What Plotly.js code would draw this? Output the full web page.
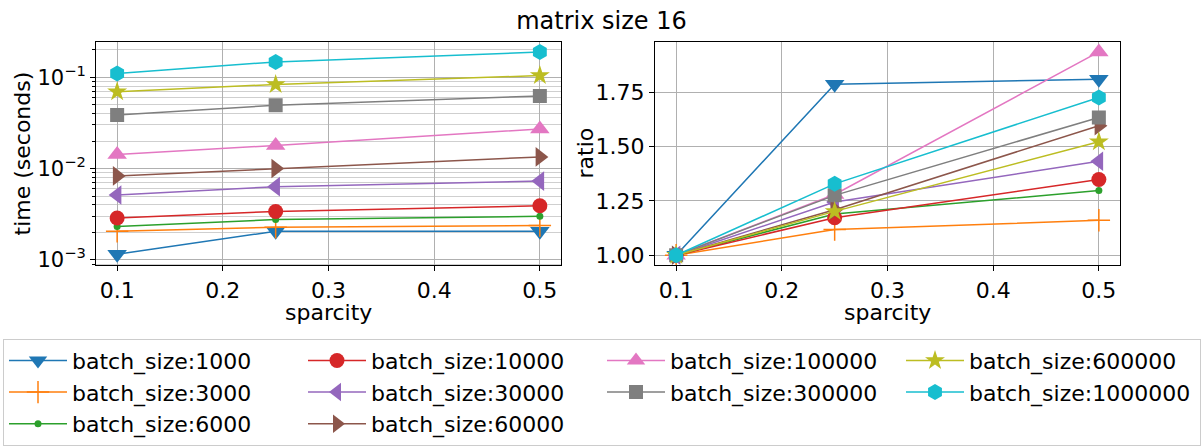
<!DOCTYPE html>
<html>
<head>
<meta charset="utf-8">
<script src="https://cdn.plot.ly/plotly-3.0.1.min.js"></script>
<style>html,body{margin:0;padding:0;background:#fff;}#chart{width:1203px;height:446px;}</style>
</head>
<body>
<div id="chart"></div>
<script>
// ---- data ----
const sparsity = [0.1, 0.25, 0.5];
const batchLabels = ["batch_size:1000","batch_size:3000","batch_size:6000","batch_size:10000","batch_size:30000","batch_size:60000","batch_size:100000","batch_size:300000","batch_size:600000","batch_size:1000000"];
// time (seconds)
const time_1000    = [0.00115, 0.00206, 0.00206];
const time_3000    = [0.00206, 0.00228, 0.00238];
const time_6000    = [0.00232, 0.00276, 0.00300];
const time_10000   = [0.00287, 0.00339, 0.00391];
const time_30000   = [0.00514, 0.00633, 0.00729];
const time_60000   = [0.0083, 0.0100, 0.0134];
const time_100000  = [0.0142, 0.0179, 0.0271];
const time_300000  = [0.0385, 0.0493, 0.0622];
const time_600000  = [0.0693, 0.0833, 0.104];
const time_1000000 = [0.110, 0.147, 0.188];
// ratio
const ratio_1000    = [1.0, 1.788, 1.811];
const ratio_3000    = [1.0, 1.118, 1.161];
const ratio_6000    = [1.0, 1.190, 1.298];
const ratio_10000   = [1.0, 1.173, 1.349];
const ratio_30000   = [1.0, 1.245, 1.433];
const ratio_60000   = [1.0, 1.210, 1.597];
const ratio_100000  = [1.0, 1.280, 1.937];
const ratio_300000  = [1.0, 1.276, 1.635];
const ratio_600000  = [1.0, 1.202, 1.523];
const ratio_1000000 = [1.0, 1.329, 1.727];
const xTicks = [0.1, 0.2, 0.3, 0.4, 0.5];
const ratioTicks = [1.0, 1.25, 1.5, 1.75];
const timeTickVals = [0.001, 0.01, 0.1];
const timeTickText = ['10<sup>−3</sup>', '10<sup>−2</sup>', '10<sup>−1</sup>'];

const timeSeries = [time_1000,time_3000,time_6000,time_10000,time_30000,time_60000,time_100000,time_300000,time_600000,time_1000000];
const ratioSeries = [ratio_1000,ratio_3000,ratio_6000,ratio_10000,ratio_30000,ratio_60000,ratio_100000,ratio_300000,ratio_600000,ratio_1000000];

// ---- styles ----
const colors = ['#1f77b4','#ff7f0e','#2ca02c','#d62728','#9467bd','#8c564b','#e377c2','#7f7f7f','#bcbd22','#17becf'];
const symbols = ['triangle-down','cross-thin','circle','circle','triangle-left','triangle-right','triangle-up','square','star','hexagon'];
const sizes = [17,16,7,15,17,17,17,14,15,16];
const legendRanks = [1,5,9,2,6,10,3,7,4,8];

const traces = [];
function addTraces(series, xa, ya, showLeg){
  series.forEach((vals,i)=>{
    const thin = symbols[i] === 'cross-thin';
    traces.push({
      x: sparsity, y: vals, xaxis: xa, yaxis: ya,
      type:'scatter', mode:'lines+markers',
      name: batchLabels[i], legendgroup: batchLabels[i], showlegend: showLeg,
      legendrank: legendRanks[i],
      line:{color:colors[i], width:1.5},
      marker:{symbol:symbols[i], size:sizes[i], color:colors[i],
              line: thin ? {color:colors[i], width:1.5} : {width:0}}
    });
  });
}
addTraces(timeSeries,'x','y',true);
addTraces(ratioSeries,'x2','y2',false);

const W = 1203, H = 446;
const px = v => v / W;
const py = v => 1 - v / H;

const font = {family:'DejaVu Sans, sans-serif', color:'#000'};
const gridC = '#b0b0b0';
const xCommon = {
  range:[0.08,0.52], tickvals:xTicks, tickformat:'.1f',
  showgrid:true, gridcolor:gridC, gridwidth:1,
  showline:true, linecolor:'#000', linewidth:1, mirror:true,
  ticks:'outside', ticklen:5, tickcolor:'#000',
  tickfont:{size:22}, zeroline:false, automargin:false
};
const yDomain = [1 - 267/H, 1 - 42/H];

const layout = {
  width:W, height:H,
  margin:{l:0, r:0, t:0, b:0},
  paper_bgcolor:'#fff', plot_bgcolor:'#fff',
  font: font,
  showlegend:true,
  title:{text:'matrix size 16', font:{size:24}, x:0.5, xanchor:'center', xref:'container',
         y:1-21/H, yanchor:'middle', yref:'container'},
  xaxis: Object.assign({}, xCommon, {domain:[px(96), px(561)], anchor:'y'}),
  xaxis2: Object.assign({}, xCommon, {domain:[px(655), px(1120)], anchor:'y2'}),
  yaxis: {
    type:'log', range:[-3.058,-0.612], tickvals:timeTickVals, ticktext:timeTickText, domain:yDomain,
    showgrid:true, gridcolor:gridC, gridwidth:1,
    showline:true, linecolor:'#000', linewidth:1, mirror:true,
    ticks:'outside', ticklen:5, tickcolor:'#000',
    minor:{dtick:'D1', ticks:'outside', ticklen:3, tickcolor:'#000', showgrid:true, gridcolor:'#cfcfcf', gridwidth:1},
    tickfont:{size:21}, zeroline:false, automargin:false, anchor:'x'
  },
  yaxis2: {
    range:[0.954,1.984], tickvals:ratioTicks, tickformat:'.2f', domain:yDomain,
    showgrid:true, gridcolor:gridC, gridwidth:1,
    showline:true, linecolor:'#000', linewidth:1, mirror:true,
    ticks:'outside', ticklen:5, tickcolor:'#000',
    tickfont:{size:22}, zeroline:false, automargin:false, anchor:'x2'
  },
  annotations:[
    {text:'sparcity', xref:'paper', yref:'paper', x:px(328.5), y:py(315), xanchor:'center', yanchor:'middle', showarrow:false, font:{size:22}},
    {text:'sparcity', xref:'paper', yref:'paper', x:px(887.5), y:py(315), xanchor:'center', yanchor:'middle', showarrow:false, font:{size:22}},
    {text:'time (seconds)', xref:'paper', yref:'paper', x:px(22), y:py(154.5), textangle:-90, xanchor:'center', yanchor:'middle', showarrow:false, font:{size:22}},
    {text:'ratio', xref:'paper', yref:'paper', x:px(585), y:py(154.5), textangle:-90, xanchor:'center', yanchor:'middle', showarrow:false, font:{size:22}}
  ],
  legend:{
    orientation:'h', xref:'paper', yref:'paper',
    x:3/W, xanchor:'left', y:1-341/H, yanchor:'top',
    bordercolor:'#cccccc', borderwidth:1, bgcolor:'rgba(255,255,255,0.8)',
    font:{size:22}, itemwidth:58, entrywidth:226, entrywidthmode:'pixels',
    traceorder:'normal'
  }
};

Plotly.newPlot('chart', traces, layout, {displayModeBar:false, staticPlot:true});
</script>
</body>
</html>
